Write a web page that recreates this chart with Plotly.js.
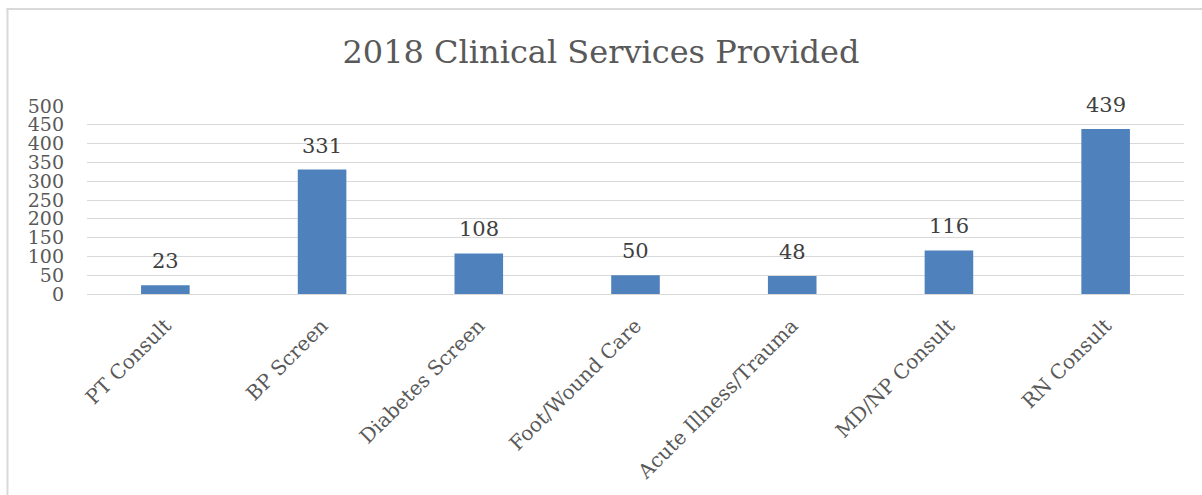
<!DOCTYPE html>
<html>
<head>
<meta charset="utf-8">
<script src="https://cdn.plot.ly/plotly-3.0.1.min.js"></script>
<style>html,body{margin:0;padding:0;background:#fff;}#chart{width:1202px;height:495px;}</style>
</head>
<body>
<div id="chart"></div>
<script>
const categories = ["PT Consult", "BP Screen", "Diabetes Screen", "Foot/Wound Care", "Acute Illness/Trauma", "MD/NP Consult", "RN Consult"];
const values = [23, 331, 108, 50, 48, 116, 439];
const yTicks = [0, 50, 100, 150, 200, 250, 300, 350, 400, 450, 500];

const serif = "DejaVu Serif, Liberation Serif, serif";
const trace = {
  type: "bar",
  x: categories,
  y: values,
  marker: {color: "#4f81bd", line: {width: 0}},
  hoverinfo: "none"
};
const labels = categories.map((c, i) => ({
  x: c, y: values[i], xref: "x", yref: "y",
  text: String(values[i]), showarrow: false,
  xanchor: "center", yanchor: "middle", yshift: 24,
  font: {family: serif, size: 21, color: "#404040"}
}));
const layout = {
  width: 1202, height: 495,
  margin: {l: 87, r: 18, t: 106, b: 201},
  paper_bgcolor: "#fff", plot_bgcolor: "#fff",
  showlegend: false,
  bargap: 0.69,
  title: {text: "2018 Clinical Services Provided", font: {family: serif, size: 32, color: "#595959"}, x: 0.5, xanchor: "center", y: 0.895, yanchor: "middle"},
  xaxis: {
    type: "category",
    tickangle: -45,
    tickfont: {family: serif, size: 20, color: "#595959"},
    showgrid: false, showline: false, zeroline: false, ticks: "",
    ticklabelstandoff: 15
  },
  yaxis: {
    range: [0, 500],
    tickvals: yTicks,
    ticktext: yTicks.map(String),
    tickfont: {family: serif, size: 19, color: "#595959"},
    showgrid: true, gridcolor: "#d9d9d9", gridwidth: 1,
    zeroline: true, zerolinecolor: "#d9d9d9", zerolinewidth: 1,
    showline: false, ticks: "", ticklabelstandoff: 22
  },
  annotations: labels,
  shapes: [
    {type: "line", xref: "paper", yref: "paper", x0: -0.0725, x1: -0.0725, y0: 1.516, y1: -1.07, line: {color: "#d9d9d9", width: 2}},
    {type: "line", xref: "paper", yref: "paper", x0: -0.0735, x1: 1.02, y0: 1.516, y1: 1.516, line: {color: "#d9d9d9", width: 2}}
  ]
};
Plotly.newPlot("chart", [trace], layout, {displayModeBar: false, staticPlot: true});
</script>
</body>
</html>
